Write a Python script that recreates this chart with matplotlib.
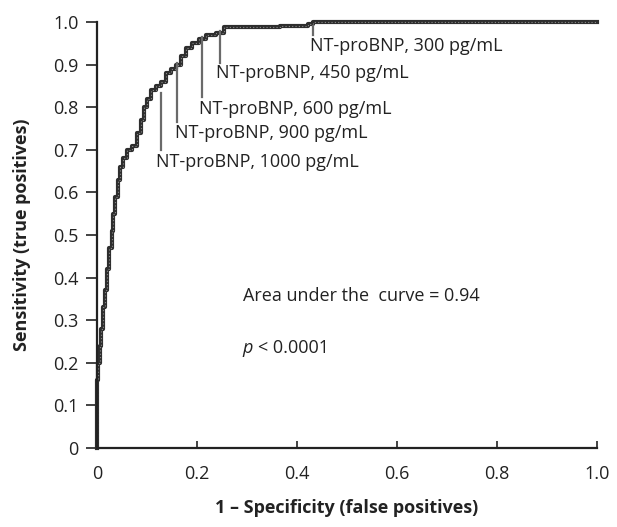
import numpy as np
import matplotlib
matplotlib.use("Agg")
import matplotlib.pyplot as plt

plt.rcParams['font.family'] = ['Open Sans', 'DejaVu Sans']

# ROC curve (1 - specificity, sensitivity at each step)
fpr_steps = [0, 0.003, 0.006, 0.008, 0.012, 0.016, 0.020, 0.025, 0.030, 0.033,
             0.037, 0.042, 0.047, 0.053, 0.061, 0.071, 0.081, 0.088, 0.094, 0.100,
             0.108, 0.118, 0.128, 0.138, 0.149, 0.159, 0.169, 0.179, 0.191, 0.204,
             0.219, 0.239, 0.254, 0.305, 0.366, 0.422, 0.433, 1.0]
tpr_steps = [0.16, 0.20, 0.24, 0.28, 0.33, 0.37, 0.42, 0.47, 0.51, 0.55,
             0.59, 0.63, 0.66, 0.68, 0.70, 0.71, 0.74, 0.77, 0.80, 0.82,
             0.84, 0.85, 0.86, 0.88, 0.89, 0.90, 0.92, 0.94, 0.95, 0.96,
             0.97, 0.975, 0.988, 0.988, 0.99, 0.995, 1.0, 1.0]

# cut-off markers
cut_labels = ["NT-proBNP, 300 pg/mL", "NT-proBNP, 450 pg/mL", "NT-proBNP, 600 pg/mL",
              "NT-proBNP, 900 pg/mL", "NT-proBNP, 1000 pg/mL"]
cut_x = [0.432, 0.246, 0.210, 0.160, 0.128]
cut_top = [0.99, 0.98, 0.965, 0.904, 0.834]
cut_bot = [0.97, 0.904, 0.824, 0.766, 0.70]
label_x = [0.426, 0.238, 0.204, 0.156, 0.118]
label_y = [0.945, 0.88, 0.795, 0.74, 0.672]

xs = [0]
ys = [0]
for x, y in zip(fpr_steps, tpr_steps):
    xs += [x, x]
    ys += [ys[-1], y]

fig = plt.figure(figsize=(6.17, 5.27), dpi=100)
ax = fig.add_axes([0.157, 0.150, 0.810, 0.808])

ax.plot(xs, ys, color='#2e2e2e', lw=3, clip_on=False, solid_joinstyle='round')
ax.plot(xs, ys, color='#8a8a8a', lw=0.8, ls=(0, (1, 2)), clip_on=False)

fs = 13
for i in range(len(cut_x)):
    ax.plot([cut_x[i], cut_x[i]], [cut_bot[i], cut_top[i]], color='#6a6a6a', lw=1.6)
    ax.text(label_x[i], label_y[i], cut_labels[i], fontsize=fs, color='#222222',
            ha='left', va='center')

ax.text(0.292, 0.356, "Area under the  curve = 0.94", fontsize=fs, color='#222222',
        ha='left', va='center')
ax.text(0.292, 0.234, "p", fontsize=fs, color='#222222', style='italic',
        ha='left', va='center')
ax.annotate("< 0.0001", xy=(0.292, 0.234), xytext=(11, 0), textcoords='offset points',
            fontsize=fs, color='#222222', ha='left', va='center')

ax.set_xlim(0, 1)
ax.set_ylim(0, 1)
ax.set_xticks([0, 0.2, 0.4, 0.6, 0.8, 1.0])
ax.set_xticklabels(["0", "0.2", "0.4", "0.6", "0.8", "1.0"])
ax.set_yticks([0, 0.1, 0.2, 0.3, 0.4, 0.5, 0.6, 0.7, 0.8, 0.9, 1.0])
ax.set_yticklabels(["0", "0.1", "0.2", "0.3", "0.4", "0.5", "0.6", "0.7", "0.8", "0.9", "1.0"])
ax.tick_params(axis='x', direction='in', length=5, width=1.2, labelsize=fs, pad=12, colors='#222222')
ax.tick_params(axis='y', direction='out', length=8, width=1.2, labelsize=fs, pad=5, colors='#222222')

for s in ['top', 'right']:
    ax.spines[s].set_visible(False)
for s in ['left', 'bottom']:
    ax.spines[s].set_linewidth(1.6)
    ax.spines[s].set_color('#222222')

ax.set_xlabel("1 \u2013 Specificity (false positives)", fontsize=fs, fontweight='bold',
              color='#222222', labelpad=12)
ax.set_ylabel("Sensitivity (true positives)", fontsize=fs, fontweight='bold',
              color='#222222', labelpad=16)

fig.savefig("out.png", dpi=100)
